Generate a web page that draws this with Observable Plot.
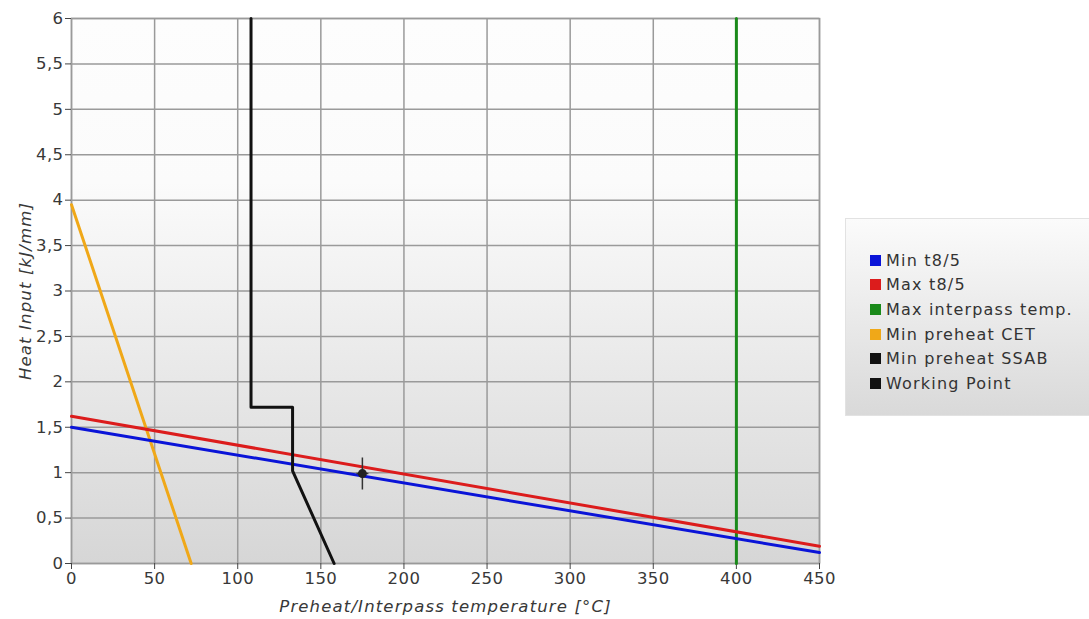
<!DOCTYPE html>
<html><head><meta charset="utf-8">
<script src="https://cdn.jsdelivr.net/npm/d3@7"></script>
<script src="https://cdn.jsdelivr.net/npm/@observablehq/plot@0.6"></script>
<style>
body{margin:0;background:#fff;font-family:"DejaVu Sans",Verdana,sans-serif}
#wrap{position:relative;width:1089px;height:619px;overflow:hidden}
#chart{position:absolute;left:0;top:0}
#legend{position:absolute;left:845px;top:218px;width:250px;height:198px;box-sizing:border-box;border:1px solid #e2e2e2;background:linear-gradient(#fbfbfb,#d9d9d9);padding:29px 0 0 24px;font-size:16px;letter-spacing:1.2px;color:#333}
.item{height:24.6px;display:flex;align-items:center}
.sw{width:11px;height:11px;margin-right:5px;flex:none}
</style></head>
<body><div id="wrap"><div id="chart"></div><div id="legend"></div></div>
<script>
// Data
const xTicks = [0, 50, 100, 150, 200, 250, 300, 350, 400, 450];
const yTicks = [0, 0.5, 1, 1.5, 2, 2.5, 3, 3.5, 4, 4.5, 5, 5.5, 6];
const minT85X = [0, 450];
const minT85Y = [1.5, 0.12];
const maxT85X = [0, 450];
const maxT85Y = [1.62, 0.19];
const maxInterpassX = [400, 400];
const maxInterpassY = [0, 6];
const minPreheatCETX = [0, 72];
const minPreheatCETY = [3.95, 0];
const minPreheatSSABX = [108, 108, 133, 133, 158];
const minPreheatSSABY = [6, 1.72, 1.72, 1.02, 0];
const workingPointX = [175];
const workingPointY = [0.99];
const seriesNames = ["Min t8/5", "Max t8/5", "Max interpass temp.", "Min preheat CET", "Min preheat SSAB", "Working Point"];
const seriesColors = ["#0a14d8", "#dc1c1c", "#1a8a1a", "#f0a818", "#111111", "#111111"];

const pts = (xs, ys) => xs.map((x, i) => ({x, y: ys[i]}));
const fmt = d => String(d).replace(".", ",");

// cross-hair symbol for the working point
const crossSymbol = {draw(ctx) { ctx.moveTo(0, -16); ctx.lineTo(0, 16); ctx.moveTo(-6, 0); ctx.lineTo(6, 0); }};

const plot = Plot.plot({
  width: 840, height: 619,
  marginLeft: 71, marginTop: 18, marginRight: 21, marginBottom: 56,
  style: {fontFamily: "'DejaVu Sans', Verdana, sans-serif", fontSize: "16px", color: "#383838", background: "transparent"},
  x: {type: "linear", domain: [0, 450]},
  y: {type: "linear", domain: [0, 6]},
  marks: [
    Plot.frame({fill: "url(#bgGrad)", stroke: "none"}),
    Plot.gridX(xTicks, {stroke: "#9a9a9a", strokeOpacity: 1, strokeWidth: 1.5}),
    Plot.gridY(yTicks, {stroke: "#9a9a9a", strokeOpacity: 1, strokeWidth: 1.5}),
    Plot.frame({stroke: "#9a9a9a", strokeWidth: 1.5}),
    Plot.axisX(xTicks, {tickSize: 6, tickPadding: 3, stroke: "#444", fill: "#383838", fontSize: 16,
      label: "Preheat/Interpass temperature [°C]", labelAnchor: "center", labelOffset: 48, labelArrow: "none"}),
    Plot.axisY(yTicks, {tickSize: 6, tickPadding: 2, stroke: "#444", fill: "#383838", fontSize: 16, tickFormat: fmt,
      label: "Heat Input [kJ/mm]", labelAnchor: "center", labelOffset: 52, labelArrow: "none"}),
    Plot.line(pts(maxInterpassX, maxInterpassY), {x: "x", y: "y", stroke: seriesColors[2], strokeWidth: 3}),
    Plot.line(pts(minPreheatCETX, minPreheatCETY), {x: "x", y: "y", stroke: seriesColors[3], strokeWidth: 3}),
    Plot.line(pts(minT85X, minT85Y), {x: "x", y: "y", stroke: seriesColors[0], strokeWidth: 3}),
    Plot.line(pts(maxT85X, maxT85Y), {x: "x", y: "y", stroke: seriesColors[1], strokeWidth: 3}),
    Plot.line(pts(minPreheatSSABX, minPreheatSSABY), {x: "x", y: "y", stroke: seriesColors[4], strokeWidth: 3}),
    Plot.dot(pts(workingPointX, workingPointY), {x: "x", y: "y", symbol: crossSymbol, stroke: "#333", strokeWidth: 1.5, fill: "none"}),
    Plot.dot(pts(workingPointX, workingPointY), {x: "x", y: "y", r: 4.5, fill: "#222", stroke: "none"})
  ]
});

// gradient background for the plot area
const svg = d3.select(plot);
const defs = svg.insert("defs", ":first-child");
const g = defs.append("linearGradient").attr("id", "bgGrad").attr("x1", 0).attr("y1", 0).attr("x2", 0).attr("y2", 1);
g.append("stop").attr("offset", "0%").attr("stop-color", "#fdfdfd");
g.append("stop").attr("offset", "30%").attr("stop-color", "#fbfbfb");
g.append("stop").attr("offset", "100%").attr("stop-color", "#d6d6d6");

// text styling
svg.selectAll("g[aria-label$='tick label'] text").style("font-size", "16.5px").style("letter-spacing", "0.4px");
svg.selectAll("g[aria-label='x-axis label'] text, g[aria-label='y-axis label'] text")
  .style("font-style", "italic").style("font-size", "16.5px").style("letter-spacing", "1.15px");

document.getElementById("chart").appendChild(plot);

const legend = document.getElementById("legend");
seriesNames.forEach((n, i) => {
  const it = document.createElement("div");
  it.className = "item";
  it.innerHTML = `<span class="sw" style="background:${seriesColors[i]}"></span><span>${n}</span>`;
  legend.appendChild(it);
});
</script></body></html>
